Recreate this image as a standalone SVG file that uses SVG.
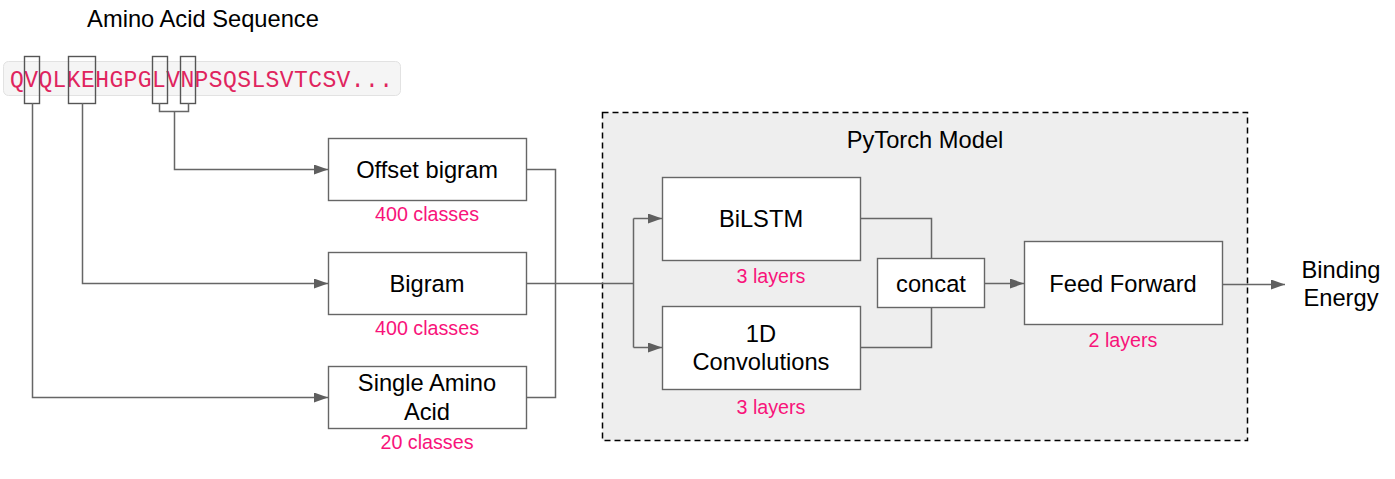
<svg xmlns="http://www.w3.org/2000/svg" width="1395" height="479" viewBox="0 0 1395 479">
<defs>
<marker id="arr" markerWidth="14" markerHeight="10" refX="14" refY="5" orient="auto" markerUnits="userSpaceOnUse">
<path d="M0,0 L14,5 L0,10 Z" fill="#5f5f5f"/>
</marker>
<style>
.box{fill:#fff;stroke:#666;stroke-width:1.4}
.t{font-family:"Liberation Sans",Arial,sans-serif;font-size:23.7px;fill:#000;text-anchor:middle}
.lbl{font-family:"Liberation Sans",Arial,sans-serif;font-size:19.7px;fill:#f8137a;text-anchor:middle}
.c{fill:none;stroke:#666;stroke-width:1.5}
.hl{fill:none;stroke:#555;stroke-width:1.4}
</style>
</defs>
<rect width="1395" height="479" fill="#fff"/>
<g id="title"><text class="t" x="203" y="27">Amino Acid Sequence</text></g>
<g id="sequence">
<rect x="3.5" y="61.5" width="397" height="34" rx="5" fill="#f5f5f5" stroke="#e2e2e2" stroke-width="1"/>
<text x="10" y="87" font-family="'Liberation Mono','DejaVu Sans Mono',monospace" font-size="23" fill="#e0245e" textLength="383" lengthAdjust="spacing">QVQLKEHGPGLVNPSQSLSVTCSV...</text>
<rect class="hl" x="24.5" y="56.5" width="15" height="47"/>
<rect class="hl" x="68.5" y="56.5" width="27" height="47"/>
<rect class="hl" x="152.5" y="56.5" width="15" height="47"/>
<rect class="hl" x="180.5" y="56.5" width="15" height="47"/>
</g>
<g id="pytorch-model">
<rect x="602.5" y="112.5" width="645" height="328" fill="#eeeeee" stroke="#000" stroke-width="1.5" stroke-dasharray="6,4"/>
<text class="t" x="925" y="148">PyTorch Model</text>
</g>
<g id="connectors">
<path class="c" d="M159.5,103 V111.5 H188.5 V103"/>
<path class="c" d="M174.5,111.5 V169.5 H328" marker-end="url(#arr)"/>
<path class="c" d="M82.5,103 V283.5 H328" marker-end="url(#arr)"/>
<path class="c" d="M32.5,103 V397.5 H328" marker-end="url(#arr)"/>
<path class="c" d="M526,169.5 H555.5 V397.5 H526"/>
<path class="c" d="M526,283.5 H633.5"/>
<path class="c" d="M633.5,218.5 V347.5"/>
<path class="c" d="M633.5,218.5 H662" marker-end="url(#arr)"/>
<path class="c" d="M633.5,347.5 H662" marker-end="url(#arr)"/>
<path class="c" d="M860,218.5 H931.5 V258"/>
<path class="c" d="M860,347.5 H931.5 V307"/>
<path class="c" d="M984,283.5 H1024" marker-end="url(#arr)"/>
<path class="c" d="M1222,284.5 H1285" marker-end="url(#arr)"/>
</g>
<g id="offset-bigram">
<rect class="box" x="328.5" y="138.5" width="198" height="62"/>
<text class="t" x="427" y="178">Offset bigram</text>
<text class="lbl" x="427" y="221">400 classes</text>
</g>
<g id="bigram">
<rect class="box" x="328.5" y="252.5" width="198" height="62"/>
<text class="t" x="427" y="292">Bigram</text>
<text class="lbl" x="427" y="335">400 classes</text>
</g>
<g id="single-amino-acid">
<rect class="box" x="328.5" y="366.5" width="198" height="62"/>
<text class="t" x="427" y="391">Single Amino</text>
<text class="t" x="427" y="420">Acid</text>
<text class="lbl" x="427" y="449">20 classes</text>
</g>
<g id="bilstm">
<rect class="box" x="662.5" y="177.5" width="198" height="83"/>
<text class="t" x="761" y="227">BiLSTM</text>
<text class="lbl" x="771" y="283">3 layers</text>
</g>
<g id="conv1d">
<rect class="box" x="662.5" y="306.5" width="198" height="83"/>
<text class="t" x="761" y="342">1D</text>
<text class="t" x="761" y="370">Convolutions</text>
<text class="lbl" x="771" y="414">3 layers</text>
</g>
<g id="concat">
<rect class="box" x="877.5" y="258.5" width="107" height="49"/>
<text class="t" x="931" y="292">concat</text>
</g>
<g id="feed-forward">
<rect class="box" x="1024.5" y="241.5" width="198" height="83"/>
<text class="t" x="1123" y="292">Feed Forward</text>
<text class="lbl" x="1123" y="347">2 layers</text>
</g>
<g id="binding-energy">
<text class="t" x="1341" y="278">Binding</text>
<text class="t" x="1341" y="306">Energy</text>
</g>
</svg>
